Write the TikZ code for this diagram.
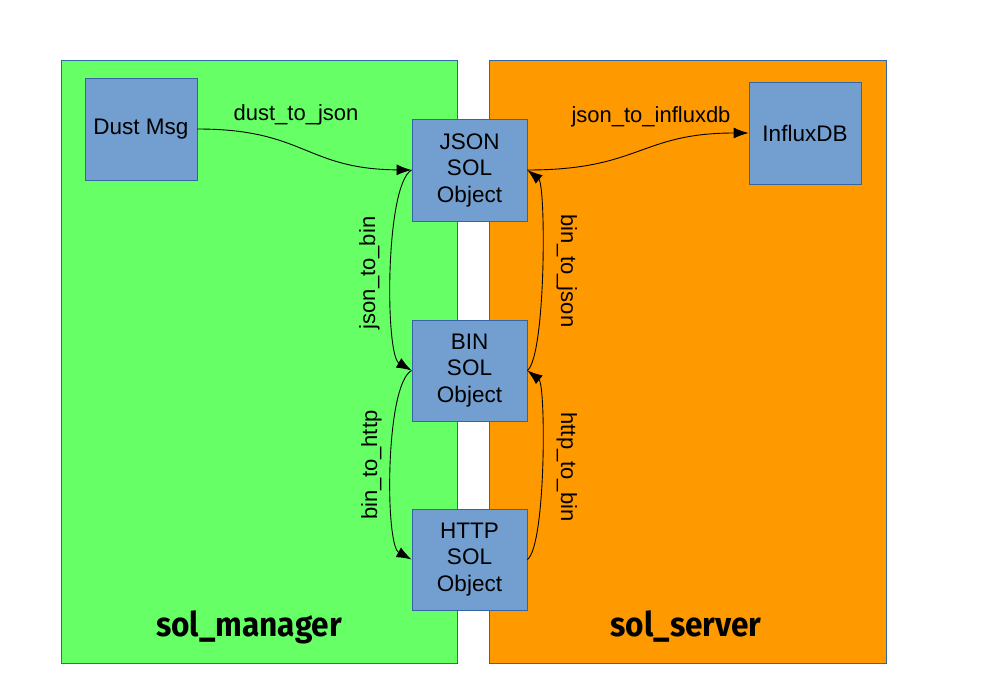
\documentclass[tikz,border=0pt]{standalone}
\usepackage{fontspec}
\setmainfont{Liberation Sans}
\newfontfamily\titlefont{Fira Sans}[FakeStretch=0.93]
\usetikzlibrary{arrows.meta}
\definecolor{mgrgreen}{HTML}{66FF66}
\definecolor{srvorange}{HTML}{FF9900}
\definecolor{boxblue}{HTML}{729FCF}
\definecolor{edgeblue}{HTML}{3465A4}
\tikzset{
  container/.style={draw=edgeblue, line width=0.9pt, inner sep=0pt, minimum width=#1, minimum height=603pt},
  sbox/.style={draw=edgeblue, line width=0.9pt, fill=boxblue, inner sep=0pt, align=center,
    font=\fontsize{22.5}{26.5}\selectfont, minimum height=102pt},
  conn/.style={line width=0.9pt, -{Latex[length=15pt,width=11pt]}},
  lbl/.style={font=\fontsize{22}{26}\selectfont, inner sep=0pt, anchor=base},
  title/.style={font=\titlefont\bfseries\fontsize{34}{40}\selectfont, inner sep=0pt, anchor=base}
}
\begin{document}
\begin{tikzpicture}[x=1pt,y=-1pt]
\useasboundingbox (0,0) rectangle (982,694);
\node[container=396pt, fill=mgrgreen] (mgr) at (259,361.5) {};
\node[container=397pt, fill=srvorange] (srv) at (687.5,361.5) {};
\node[title] (mgrlabel) at (249,636) {sol\_manager};
\node[title] (srvlabel) at (686,636) {sol\_server};

\node[sbox, minimum width=112pt] (dust) at (141,129) {Dust Msg};
\node[sbox, minimum width=112pt] (influx) at (805,133) {InfluxDB};
\node[sbox, minimum width=115pt, minimum height=102pt] (json) at (469.5,170) {JSON\\SOL\\Object};
\node[sbox, minimum width=115pt, minimum height=101pt] (bin) at (469.5,370.5) {BIN\\SOL\\Object};
\node[sbox, minimum width=115pt, minimum height=101pt] (http) at (469.5,559.5) {HTTP\\SOL\\Object};

\draw[conn] (dust.east) .. controls (305,129) and (305,169) .. (json.west);
\draw[conn] (json.east) .. controls (640,170) and (640,133) .. (influx.west);
\draw[conn] (json.west) .. controls (385,185) and (385,355) .. (bin.west);
\draw[conn] (bin.east) .. controls (546,355) and (546,185) .. (json.east);
\draw[conn] (bin.west) .. controls (385,385) and (385,545) .. (http.west);
\draw[conn] (http.east) .. controls (546,545) and (546,385) .. (bin.east);

\node[lbl] (l1) at (296,120) {dust\_to\_json};
\node[lbl] (l2) at (651,122.5) {json\_to\_influxdb};
\node[lbl, rotate=90] (l3) at (375,273) {json\_to\_bin};
\node[lbl, rotate=90] (l4) at (377,465) {bin\_to\_http};
\node[lbl, rotate=-90] (l5) at (561,271) {bin\_to\_json};
\node[lbl, rotate=-90] (l6) at (561,467) {http\_to\_bin};
\end{tikzpicture}
\end{document}
